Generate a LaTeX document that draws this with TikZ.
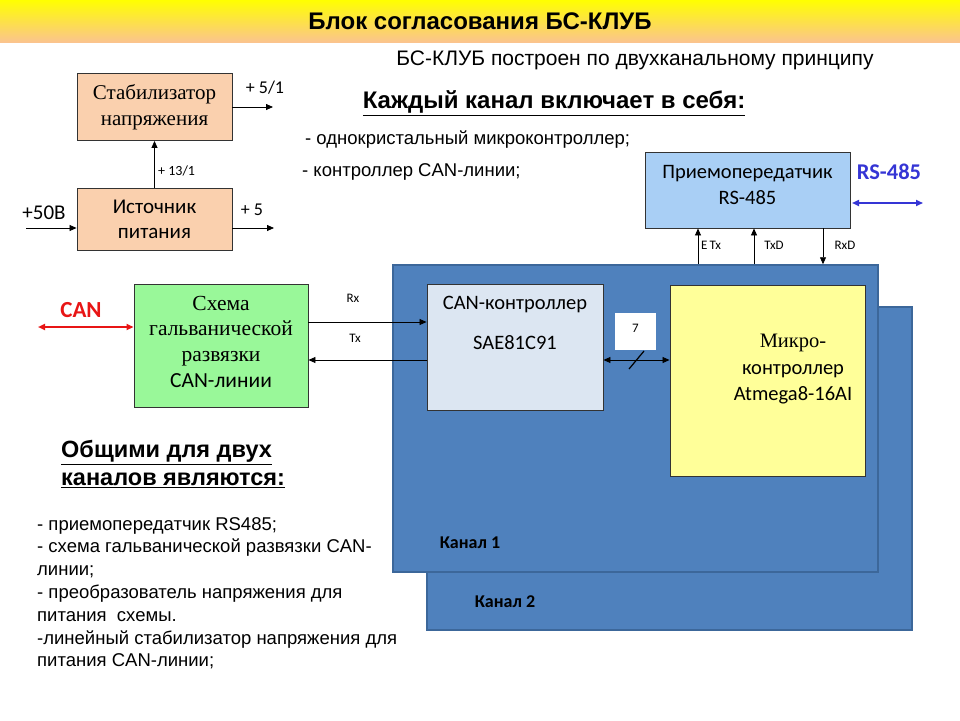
\documentclass[tikz,border=0pt]{standalone}
\usepackage{fontspec}
\setmainfont{Liberation Sans}
\newfontfamily\calib{Carlito}
\newfontfamily\serc{Liberation Serif}
\usetikzlibrary{arrows.meta}
\definecolor{peach}{HTML}{FAD0AE}
\definecolor{titlebot}{HTML}{FBC48E}
\definecolor{rsblue}{HTML}{A9CFF5}
\definecolor{chblue}{HTML}{4F81BD}
\definecolor{chedge}{HTML}{3C679A}
\definecolor{canbg}{HTML}{DCE6F2}
\definecolor{mcy}{HTML}{FFFF99}
\definecolor{grn}{HTML}{99F899}
\definecolor{lblue}{HTML}{3535D5}
\definecolor{canred}{HTML}{E81515}
\tikzset{
  blk/.style={draw=black!80, line width=0.9pt, inner sep=0pt, align=center},
  chan/.style={draw=chedge, line width=1.5pt, fill=chblue, inner sep=0pt},
  arr/.style={line width=0.8pt, -{Triangle[length=7pt,width=6pt]}},
  darr/.style={line width=0.8pt, {Triangle[length=7pt,width=6pt]}-{Triangle[length=7pt,width=6pt]}},
  lbl/.style={inner sep=0pt, font=\calib\fontsize{13}{15}\selectfont},
  bodytxt/.style={inner sep=0pt, anchor=west, font=\fontsize{18.5}{22}\selectfont},
}
\begin{document}
\begin{tikzpicture}[x=1pt,y=-1pt]
\useasboundingbox (0,0) rectangle (960,720);
\fill[white] (0,0) rectangle (960,720);
\shade[top color=yellow, bottom color=titlebot] (0,0) rectangle (960,42);
\node[inner sep=0pt, font=\bfseries\fontsize{24}{28}\selectfont] (title) at (480,21) {Блок согласования БС-КЛУБ};

\node[inner sep=0pt, font=\fontsize{21}{24}\selectfont] (t1) at (635,60) {БС-КЛУБ построен по двухканальному принципу};
\node[inner sep=0pt, font=\bfseries\fontsize{24}{28}\selectfont] (t2) at (554,103) {\underline{Каждый канал включает в себя:}};
\node[bodytxt] (t3) at (305,140) {- однокристальный микроконтроллер;};
\node[bodytxt] (t4) at (302,172) {- контроллер CAN-линии;};

% power
\node[blk, fill=peach, minimum width=155pt, minimum height=67pt, font=\serc\fontsize{21}{25.5}\selectfont] (stab) at (154.5,107) {Стабилизатор\\напряжения};
\node[blk, fill=peach, minimum width=155pt, minimum height=62pt, font=\calib\fontsize{21}{25}\selectfont] (src) at (154.5,219) {Источник\\питания};
\draw[arr] (src.north) -- (stab.north |- stab.south);
\node[lbl, anchor=west, font=\calib\fontsize{14}{16}\selectfont] (l131) at (158,171) {+ 13/1};
\coordinate (o51) at (273,107);
\draw[arr] (stab.east |- o51) -- (o51);
\node[lbl, font=\calib\fontsize{18}{21}\selectfont] (l51) at (265,88) {+ 5/1};
\coordinate (o5) at (274,228);
\draw[arr] (src.east |- o5) -- (o5);
\node[lbl, font=\calib\fontsize{18}{21}\selectfont] (l5) at (252,210) {+ 5};
\coordinate (i50) at (26,228);
\draw[arr] (i50) -- (src.west |- i50);
\node[lbl, font=\calib\fontsize{21}{24}\selectfont] (l50) at (44,213) {+50В};

% RS485
\node[blk, fill=rsblue, minimum width=205pt, minimum height=76pt] (rs) at (747.5,190) {};
\node[inner sep=0pt, align=center, font=\calib\fontsize{20.5}{26}\selectfont] (rst) at (747.5,185) {Приемопередатчик\\RS-485};
\node[inner sep=0pt, text=lblue, font=\calib\bfseries\fontsize{22.5}{26}\selectfont] (rsl) at (889,172) {RS-485};
\coordinate (rse) at (923,203);
\coordinate (rsw) at (852,203);
\draw[darr, lblue, line width=1.6pt] (rsw) -- (rse);

% channels
\node[chan, minimum width=485pt, minimum height=323pt] (ch2) at (669.5,468.5) {};
\node[chan, minimum width=485pt, minimum height=307pt] (ch1) at (635.5,418.5) {};
\node[inner sep=0pt, font=\calib\bfseries\fontsize{18}{21}\selectfont] (k1) at (470,543) {Канал 1};
\node[inner sep=0pt, font=\calib\bfseries\fontsize{18}{21}\selectfont] (k2) at (505,602) {Канал 2};

\coordinate (xe) at (698,0);
\coordinate (xt) at (754,0);
\coordinate (xr) at (823,0);
\draw[arr] (xe |- ch1.north) -- (xe |- rs.south);
\draw[arr] (xt |- ch1.north) -- (xt |- rs.south);
\draw[arr] (xr |- rs.south) -- (xr |- ch1.north);
\node[lbl] (le) at (711,245) {E\,Tx};
\node[lbl] (lt) at (774,245) {TxD};
\node[lbl] (lr) at (845,245) {RxD};

\node[blk, fill=canbg, minimum width=176pt, minimum height=126pt] (canc) at (515,347) {};
\node[inner sep=0pt, align=center, font=\calib\fontsize{20.5}{40}\selectfont] (canct) at (515,323) {CAN-контроллер\\SAE81C91};

\node[blk, fill=mcy, minimum width=195pt, minimum height=191pt] (mc) at (767.5,380.5) {};
\node[inner sep=0pt, align=center, font=\calib\fontsize{20.5}{26.5}\selectfont] (mct) at (793,369.5) {{\serc Микро-}\\контроллер\\Atmega8-16AI};

\node[fill=white, inner sep=0pt, minimum width=41pt, minimum height=37pt] (seven) at (635.5,331.5) {};
\node[inner sep=0pt, font=\calib\fontsize{13}{15}\selectfont] (sevent) at (635.5,328) {7};
\coordinate (bus) at (0,360);
\draw[darr] (canc.east |- bus) -- (mc.west |- bus);
\coordinate (s1) at (629,369);
\coordinate (s2) at (644,351);
\draw[line width=1.2pt] (s1) -- (s2);

% CAN isolation
\node[blk, fill=grn, minimum width=174pt, minimum height=123pt] (gal) at (221,345.5) {};
\node[inner sep=0pt, align=center, font=\serc\fontsize{21.5}{25.7}\selectfont] (galt) at (221,341.5) {Схема\\гальванической\\развязки\\{\calib CAN-линии}};
\coordinate (rxy) at (0,322);
\coordinate (txy) at (0,360);
\draw[arr] (gal.east |- rxy) -- (canc.west |- rxy);
\draw[arr] (canc.west |- txy) -- (gal.east |- txy);
\node[lbl] (lrx) at (353,298) {Rx};
\node[lbl] (ltx) at (355,338) {Tx};
\coordinate (cane) at (38,327);
\draw[darr, canred, line width=1.8pt] (cane) -- (gal.west |- cane);
\node[inner sep=0pt, text=canred, font=\calib\bfseries\fontsize{23}{26}\selectfont] (canl) at (81,310) {CAN};

% common
\node[inner sep=0pt, anchor=west, align=left, font=\bfseries\fontsize{23.5}{28}\selectfont] (c1) at (61,464) {\underline{Общими для двух}\\\underline{каналов являются:}};
\node[inner sep=0pt, anchor=north west, align=left, font=\fontsize{18.5}{22.8}\selectfont] (c2) at (37,517) {- приемопередатчик RS485;\\- схема гальванической развязки CAN-\\линии;\\- преобразователь напряжения для\\питания\ \ схемы.\\-линейный стабилизатор напряжения для\\питания CAN-линии;};
\end{tikzpicture}
\end{document}
